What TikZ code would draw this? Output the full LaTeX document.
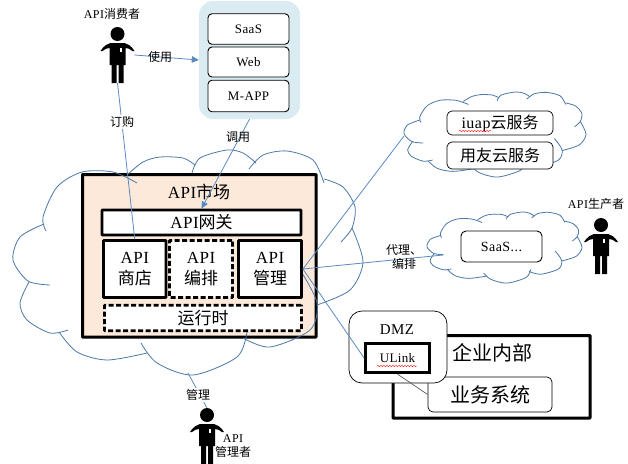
\documentclass[tikz,border=0pt]{standalone}
\usepackage{fontspec}
\setmainfont[LetterSpace=3]{Liberation Serif}
\newfontfamily\cjk{Noto Sans CJK SC}
\usepackage{tikz}
\usetikzlibrary{positioning, arrows.meta, decorations.pathmorphing}
\definecolor{linkblue}{HTML}{5B8AC0}
\definecolor{cloudblue}{HTML}{4A78A8}
\definecolor{panelblue}{HTML}{DAECF2}
\definecolor{peach}{HTML}{FDE9D9}
\newcommand{\zh}[1]{{\cjk #1}}

\begin{document}
\begin{tikzpicture}[x=1pt, y=-1pt,
    label/.style={inner sep=0pt, font=\fontsize{12}{14}\selectfont},
    thickbox/.style={draw, fill=white, line width=2.8pt, inner sep=0pt, font=\fontsize{17}{21}\selectfont, align=center, rounded corners=0.5pt},
    dashbox/.style={thickbox, dash pattern=on 5pt off 2.5pt},
    appbox/.style={draw, fill=white, rounded corners=4pt, line width=0.9pt, inner sep=0pt, font=\fontsize{13}{15}\selectfont},
    softbox/.style={draw, fill=white, rounded corners=5pt, line width=0.7pt, inner sep=0pt, font=\fontsize{16}{19}\selectfont},
    link/.style={linkblue, line width=0.8pt},
    puff/.style={cloudblue, line width=0.8pt, smooth},
    spell/.style={red, line width=0.4pt, decorate, decoration={snake, amplitude=0.6pt, segment length=3pt}},
    pics/office cloud/.style={code={
        \draw[puff] plot coordinates {(33,81) (30,67) (44,37) (69,22) (100,22) (124,33)};
        \draw[puff] plot coordinates {(114,25) (130,12) (147,7) (170,8) (182,15)};
        \draw[puff] plot coordinates {(179,23) (187,8) (214,0) (230,3) (243,13)};
        \draw[puff] plot coordinates {(236,19) (250,5) (274,1) (300,10) (311,33)};
        \draw[puff] plot coordinates {(311,29) (330,37) (342,57) (339,78) (328,92)};
        \draw[puff] plot coordinates {(339,78) (350,112) (337,140) (304,155)};
        \draw[puff] plot coordinates {(289,123) (304,153) (297,180) (257,197) (230,188)};
        \draw[puff] plot coordinates {(234,182) (224,207) (180,225) (144,213) (128,193)};
        \draw[puff] plot coordinates {(134,203) (94,210) (64,202) (46,182)};
        \draw[puff] plot coordinates {(55,180) (37,183) (14,170) (7,153) (16,132)};
        \draw[puff] plot coordinates {(37,135) (15,131) (0,110) (7,87) (31,74)};
    }},
    pics/person/.style={code={
        \fill (0,0) circle (7);
        \fill (-17,17) .. controls (-13,11) and (-10,10) .. (-7,9) -- (7,9)
            .. controls (10,10) and (13,11) .. (17,17) -- (15,17)
            .. controls (13,15) and (10,14) .. (8,14) -- (8,31) -- (6,31) -- (6,49) -- (1,49) -- (1,31)
            -- (-1,31) -- (-1,49) -- (-6,49) -- (-6,31) -- (-8,31) -- (-8,14)
            .. controls (-10,14) and (-13,15) .. (-15,17) -- cycle;
        \fill[white] (2,14) rectangle (4,18);
        \coordinate (-foot) at (0,49);
        \coordinate (-hand) at (17,21);
        \coordinate (-head) at (0,-7);
    }}]
    \useasboundingbox (0,0) rectangle (628,463);

    % API market
    \draw[line width=3pt, fill=peach, rounded corners=0.5pt] (82.5,174.5) rectangle (316,337);
    \pic at (13,150) {office cloud};
    \node at (199,192) {\fontsize{17}{21}\selectfont API\zh{市场}};
    \node[thickbox, minimum width=199pt, minimum height=25pt] (gateway) at (201.5,222.5) {API\zh{网关}};
    \node[thickbox, minimum width=62.5pt, minimum height=57pt] (store) at (134.75,269) {API\\\zh{商店}};
    \node[dashbox, minimum width=63pt, minimum height=57pt] (orch) at (201,269) {API\\\zh{编排}};
    \node[thickbox, minimum width=63pt, minimum height=57pt] (manage) at (270,269) {API\\\zh{管理}};
    \node[dashbox, minimum width=197pt, minimum height=25.5pt] (runtime) at (203,318) {\zh{运行时}};

    % Apps
    \node[fill=panelblue, rounded corners=14pt, minimum width=101pt, minimum height=118pt, inner sep=0pt] (apps) at (249.5,60) {};
    \node[appbox, minimum width=81pt, minimum height=30.5pt] (saas) at (248.5,29) {SaaS};
    \node[appbox, minimum width=81pt, minimum height=30pt] (web) at (248.5,62) {Web};
    \node[appbox, minimum width=81pt, minimum height=31.5pt] (mapp) at (248.5,96) {M-APP};

    % Cloud services
    \pic[shift={(404,92)}, xscale=0.52, yscale=0.378] {office cloud};
    \node[softbox, minimum width=106pt, minimum height=24pt] (iuap) at (500,123) {iuap\zh{云服务}};
    \node[softbox, minimum width=106pt, minimum height=27pt] (yonyou) at (500,155.5) {\zh{用友云服务}};
    \pic[shift={(427,212)}, xscale=0.443, yscale=0.316] {office cloud};
    \node[appbox, rounded corners=5pt, font=\fontsize{14}{16}\selectfont, minimum width=81pt, minimum height=31pt] (saasetc) at (501.5,246.5) {SaaS...};
    \coordinate (iuapedge) at (404,136);
    \coordinate (saasedge) at (443,255);
    \coordinate (marketedge) at (188,373);

    % Enterprise
    \draw[line width=3pt, rounded corners=0.5pt] (393,335.5) rectangle (590,418);
    \node[inner sep=0pt, font=\fontsize{20}{24}\selectfont] (inner) at (492,353) {\zh{企业内部}};
    \node[softbox, font=\fontsize{20}{24}\selectfont, minimum width=124pt, minimum height=35pt] (biz) at (490,394.5) {\zh{业务系统}};
    \node[draw, fill=white, rounded corners=13pt, line width=0.7pt, minimum width=98pt, minimum height=72pt] (dmz) at (398,347) {};
    \node[inner sep=0pt, font=\fontsize{15}{18}\selectfont] (dmzlabel) at (397,330) {DMZ};
    \node[draw, fill=white, line width=2.8pt, inner sep=0pt, minimum width=64pt, minimum height=29.5pt, font=\fontsize{13}{16}\selectfont] (ulink) at (397.5,358) {ULink};

    % People
    \pic (consumer) at (117.5,34) {person};
    \pic (producer) at (601,225) {person};
    \pic (admin) at (207,415) {person};

    % Links
    \draw[link] (consumer-foot) -- (store.north);
    \draw[link, -{Triangle[length=7pt, width=6.5pt]}] (consumer-hand) -- (apps.west);
    \draw[link, -{Triangle[length=7pt, width=6.5pt]}] (apps.south) -- (gateway.north);
    \draw[link] (manage.east) -- (iuapedge);
    \draw[link] (manage.east) -- (saasedge);
    \draw[link] (manage.east) -- (ulink.west);
    \draw[link] (admin-head) -- (marketedge);
    \draw[black!65, line width=0.7pt] (ulink.south) -- (biz.west);

    % Spell marks
    \draw[spell] (459,131) -- (491,131);
    \draw[spell] (377,366) -- (417,366);

    % Labels
    \node[label] (consumerlabel) at (112,14) {API\zh{消费者}};
    \node[label] (uselabel) at (160,57) {\zh{使用}};
    \node[label, fill=white, inner sep=1pt] (buylabel) at (122,122) {\zh{订购}};
    \node[label] (calllabel) at (238,137) {\zh{调用}};
    \node[label, align=center] (proxylabel) at (404,256.5) {\zh{代理、}\\\zh{编排}};
    \node[label] (producerlabel) at (596,204) {API\zh{生产者}};
    \node[label, fill=white, inner sep=1pt] (adminlabel) at (198,395) {\zh{管理}};
    \node[label, align=center] (adminname) at (233,446.5) {API\\\zh{管理者}};
\end{tikzpicture}
\end{document}
